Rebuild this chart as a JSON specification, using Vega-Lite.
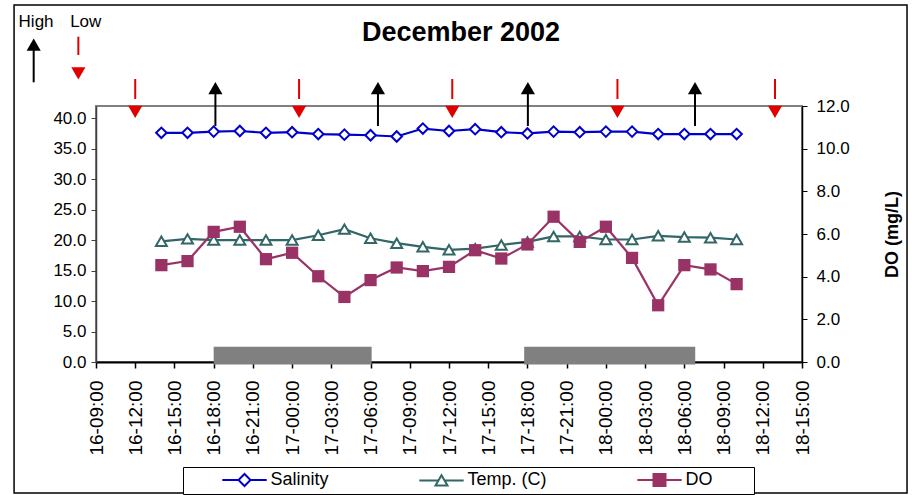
{
  "$schema": "https://vega.github.io/schema/vega-lite/v6.json",
  "width": 706,
  "height": 256,
  "autosize": {"type": "none"},
  "padding": {"left": 96, "top": 106, "right": 113, "bottom": 133},
  "background": "white",
  "config": {
    "view": {"stroke": "#808080", "strokeWidth": 2},
    "font": "Liberation Sans"
  },
  "title": {
    "text": "December 2002",
    "font": "Liberation Sans",
    "fontSize": 27,
    "fontWeight": "bold",
    "color": "black",
    "anchor": "middle",
    "frame": "group",
    "offset": -43,
    "dx": 12
  },
  "datasets": {
    "main": [
      {"t": "2002-12-16T14:00", "sal": 37.6, "temp": 19.8, "do": 4.54},
      {"t": "2002-12-16T16:00", "sal": 37.6, "temp": 20.2, "do": 4.73},
      {"t": "2002-12-16T18:00", "sal": 37.8, "temp": 20.0, "do": 6.10},
      {"t": "2002-12-16T20:00", "sal": 37.9, "temp": 20.0, "do": 6.34},
      {"t": "2002-12-16T22:00", "sal": 37.6, "temp": 20.0, "do": 4.82},
      {"t": "2002-12-17T00:00", "sal": 37.7, "temp": 20.0, "do": 5.12},
      {"t": "2002-12-17T02:00", "sal": 37.4, "temp": 20.8, "do": 4.02},
      {"t": "2002-12-17T04:00", "sal": 37.3, "temp": 21.8, "do": 3.05},
      {"t": "2002-12-17T06:00", "sal": 37.2, "temp": 20.3, "do": 3.84},
      {"t": "2002-12-17T08:00", "sal": 37.0, "temp": 19.5, "do": 4.43},
      {"t": "2002-12-17T10:00", "sal": 38.3, "temp": 18.9, "do": 4.26},
      {"t": "2002-12-17T12:00", "sal": 37.9, "temp": 18.4, "do": 4.46},
      {"t": "2002-12-17T14:00", "sal": 38.2, "temp": 18.6, "do": 5.24},
      {"t": "2002-12-17T16:00", "sal": 37.7, "temp": 19.2, "do": 4.85},
      {"t": "2002-12-17T18:00", "sal": 37.5, "temp": 19.7, "do": 5.51},
      {"t": "2002-12-17T20:00", "sal": 37.8, "temp": 20.6, "do": 6.81},
      {"t": "2002-12-17T22:00", "sal": 37.7, "temp": 20.6, "do": 5.63},
      {"t": "2002-12-18T00:00", "sal": 37.8, "temp": 20.1, "do": 6.34},
      {"t": "2002-12-18T02:00", "sal": 37.8, "temp": 20.1, "do": 4.88},
      {"t": "2002-12-18T04:00", "sal": 37.4, "temp": 20.7, "do": 2.66},
      {"t": "2002-12-18T06:00", "sal": 37.4, "temp": 20.5, "do": 4.54},
      {"t": "2002-12-18T08:00", "sal": 37.4, "temp": 20.4, "do": 4.34},
      {"t": "2002-12-18T10:00", "sal": 37.4, "temp": 20.1, "do": 3.65}
    ],
    "nights": [
      {"start": "2002-12-16T18:00", "end": "2002-12-17T06:05"},
      {"start": "2002-12-17T17:45", "end": "2002-12-18T06:50"}
    ],
    "lows": [
      {"t": "2002-12-16T12:00"},
      {"t": "2002-12-17T00:32"},
      {"t": "2002-12-17T12:15"},
      {"t": "2002-12-18T00:53"},
      {"t": "2002-12-18T12:56"}
    ],
    "highs": [
      {"t": "2002-12-16T18:08"},
      {"t": "2002-12-17T06:34"},
      {"t": "2002-12-17T18:02"},
      {"t": "2002-12-18T06:49"}
    ],
    "keys": [
      {"label": "High", "t": "2002-12-16T04:25"},
      {"label": "Low", "t": "2002-12-16T08:13"}
    ],
    "series": [
      {"s": "Salinity"},
      {"s": "Temp. (C)"},
      {"s": "DO"}
    ]
  },
  "resolve": {"scale": {"y": "independent"}, "axis": {"x": "independent", "y": "independent"}},
  "layer": [
    {
      "resolve": {"axis": {"x": "independent", "y": "independent"}},
      "layer": [
        {
          "data": {"name": "main"},
          "mark": {"type": "line", "color": "#0000CC", "strokeWidth": 2.2,
                   "point": {"shape": "diamond", "filled": true, "fill": "white", "stroke": "#0000CC", "strokeWidth": 2, "size": 110}},
          "encoding": {
            "x": {"field": "t", "type": "temporal",
                  "scale": {"domain": [{"year": 2002, "month": 12, "date": 16, "hours": 9}, {"year": 2002, "month": 12, "date": 18, "hours": 15}]},
                  "axis": {"orient": "bottom", "title": null, "format": "%d-%H:%M",
                           "values": [
                             {"year": 2002, "month": 12, "date": 16, "hours": 9},
                             {"year": 2002, "month": 12, "date": 16, "hours": 12},
                             {"year": 2002, "month": 12, "date": 16, "hours": 15},
                             {"year": 2002, "month": 12, "date": 16, "hours": 18},
                             {"year": 2002, "month": 12, "date": 16, "hours": 21},
                             {"year": 2002, "month": 12, "date": 17, "hours": 0},
                             {"year": 2002, "month": 12, "date": 17, "hours": 3},
                             {"year": 2002, "month": 12, "date": 17, "hours": 6},
                             {"year": 2002, "month": 12, "date": 17, "hours": 9},
                             {"year": 2002, "month": 12, "date": 17, "hours": 12},
                             {"year": 2002, "month": 12, "date": 17, "hours": 15},
                             {"year": 2002, "month": 12, "date": 17, "hours": 18},
                             {"year": 2002, "month": 12, "date": 17, "hours": 21},
                             {"year": 2002, "month": 12, "date": 18, "hours": 0},
                             {"year": 2002, "month": 12, "date": 18, "hours": 3},
                             {"year": 2002, "month": 12, "date": 18, "hours": 6},
                             {"year": 2002, "month": 12, "date": 18, "hours": 9},
                             {"year": 2002, "month": 12, "date": 18, "hours": 12},
                             {"year": 2002, "month": 12, "date": 18, "hours": 15}
                           ],
                           "labelAngle": 270, "labelFont": "Liberation Sans", "labelFontSize": 19, "labelColor": "black",
                           "labelPadding": 12, "tickSize": 6, "tickColor": "black", "tickWidth": 1.5,
                           "domainColor": "black", "domainWidth": 2, "grid": false,
                           "labelOverlap": false, "labelFlush": false}},
            "y": {"field": "sal", "type": "quantitative",
                  "scale": {"domain": [0, 42], "nice": false},
                  "axis": {"orient": "left", "title": null, "values": [0, 5, 10, 15, 20, 25, 30, 35, 40], "format": ".1f",
                           "labelFont": "Liberation Sans", "labelFontSize": 17, "labelColor": "black",
                           "tickSize": 5, "labelPadding": 5, "domainColor": "#404040", "domainWidth": 1.5,
                           "tickColor": "#404040", "grid": false}}
          }
        },
        {
          "data": {"values": [{}]},
          "mark": {"type": "rect", "filled": false, "color": "black", "strokeWidth": 1.5},
          "encoding": {
            "x": {"datum": {"year": 2002, "month": 12, "date": 16, "hours": 2, "minutes": 44}, "type": "temporal", "axis": null},
            "x2": {"datum": {"year": 2002, "month": 12, "date": 18, "hours": 23, "minutes": 2}},
            "y": {"datum": 58.57, "type": "quantitative", "axis": null},
            "y2": {"datum": -21.49}
          }
        },
        {
          "data": {"name": "nights"},
          "mark": {"type": "rect", "color": "#808080"},
          "encoding": {
            "x": {"field": "start", "type": "temporal", "axis": null},
            "x2": {"field": "end"},
            "y": {"datum": 2.5, "type": "quantitative", "axis": null},
            "y2": {"datum": -0.4}
          }
        },
        {
          "data": {"name": "main"},
          "mark": {"type": "line", "color": "#336666", "strokeWidth": 2.2,
                   "point": {"shape": "triangle-up", "filled": true, "fill": "white", "stroke": "#336666", "strokeWidth": 2, "size": 120}},
          "encoding": {
            "x": {"field": "t", "type": "temporal", "axis": null},
            "y": {"field": "temp", "type": "quantitative", "axis": null}
          }
        },
        {
          "data": {"name": "lows"},
          "mark": {"type": "rule", "color": "#E00000", "strokeWidth": 2},
          "encoding": {
            "x": {"field": "t", "type": "temporal", "axis": null},
            "y": {"datum": 46.43, "type": "quantitative", "axis": null},
            "y2": {"datum": 43.15}
          }
        },
        {
          "data": {"name": "lows"},
          "mark": {"type": "point", "shape": "triangle-down", "filled": true, "color": "#E00000", "size": 200, "opacity": 1},
          "encoding": {
            "x": {"field": "t", "type": "temporal", "axis": null},
            "y": {"datum": 41.02, "type": "quantitative", "axis": null}
          }
        },
        {
          "data": {"name": "highs"},
          "mark": {"type": "rule", "color": "black", "strokeWidth": 2},
          "encoding": {
            "x": {"field": "t", "type": "temporal", "axis": null},
            "y": {"datum": 44.6, "type": "quantitative", "axis": null},
            "y2": {"datum": 38.72}
          }
        },
        {
          "data": {"name": "highs"},
          "mark": {"type": "point", "shape": "triangle-up", "filled": true, "color": "black", "size": 200, "opacity": 1},
          "encoding": {
            "x": {"field": "t", "type": "temporal", "axis": null},
            "y": {"datum": 44.95, "type": "quantitative", "axis": null}
          }
        },
        {
          "data": {"name": "keys"},
          "mark": {"type": "text", "font": "Liberation Sans", "fontSize": 17, "color": "black", "align": "center", "baseline": "alphabetic"},
          "encoding": {
            "x": {"field": "t", "type": "temporal", "axis": null},
            "y": {"datum": 55.0, "type": "quantitative", "axis": null},
            "text": {"field": "label"}
          }
        },
        {
          "data": {"values": [{}]},
          "mark": {"type": "rule", "color": "black", "strokeWidth": 2},
          "encoding": {
            "x": {"datum": {"year": 2002, "month": 12, "date": 16, "hours": 4, "minutes": 14}, "type": "temporal", "axis": null},
            "y": {"datum": 51.5, "type": "quantitative", "axis": null},
            "y2": {"datum": 45.89}
          }
        },
        {
          "data": {"values": [{}]},
          "mark": {"type": "point", "shape": "triangle-up", "filled": true, "color": "black", "size": 200, "opacity": 1},
          "encoding": {
            "x": {"datum": {"year": 2002, "month": 12, "date": 16, "hours": 4, "minutes": 14}, "type": "temporal", "axis": null},
            "y": {"datum": 52.06, "type": "quantitative", "axis": null}
          }
        },
        {
          "data": {"values": [{}]},
          "mark": {"type": "rule", "color": "#E00000", "strokeWidth": 2},
          "encoding": {
            "x": {"datum": {"year": 2002, "month": 12, "date": 16, "hours": 7, "minutes": 39}, "type": "temporal", "axis": null},
            "y": {"datum": 53.37, "type": "quantitative", "axis": null},
            "y2": {"datum": 50.37}
          }
        },
        {
          "data": {"values": [{}]},
          "mark": {"type": "point", "shape": "triangle-down", "filled": true, "color": "#E00000", "size": 200, "opacity": 1},
          "encoding": {
            "x": {"datum": {"year": 2002, "month": 12, "date": 16, "hours": 7, "minutes": 39}, "type": "temporal", "axis": null},
            "y": {"datum": 47.37, "type": "quantitative", "axis": null}
          }
        },
        {
          "data": {"name": "series"},
          "mark": {"type": "point", "filled": false, "opacity": 0},
          "encoding": {
            "color": {"field": "s", "type": "nominal",
                      "scale": {"domain": ["Salinity", "Temp. (C)", "DO"], "range": ["#0000CC", "#336666", "#993366"]},
                      "legend": {"title": null, "orient": "none", "legendX": 87, "legendY": 361, "direction": "horizontal",
                                 "symbolSize": 144, "symbolStrokeWidth": 2, "symbolOpacity": 1, "symbolOffset": 48.5,
                                 "labelFont": "Liberation Sans", "labelFontSize": 18, "labelColor": "black",
                                 "labelOffset": 17, "columnPadding": 55, "padding": 4,
                                 "strokeColor": "black", "fillColor": "white"}},
            "fill": {"field": "s", "type": "nominal",
                     "scale": {"domain": ["Salinity", "Temp. (C)", "DO"], "range": ["white", "white", "#993366"]},
                     "legend": {"title": null, "orient": "none", "legendX": 87, "legendY": 361, "direction": "horizontal",
                                "symbolSize": 144, "symbolStrokeWidth": 2, "symbolOpacity": 1, "symbolOffset": 48.5,
                                "labelFont": "Liberation Sans", "labelFontSize": 18, "labelColor": "black",
                                "labelOffset": 17, "columnPadding": 55, "padding": 4,
                                "strokeColor": "black", "fillColor": "white"}},
            "shape": {"field": "s", "type": "nominal",
                      "scale": {"domain": ["Salinity", "Temp. (C)", "DO"],
                                "range": ["M-3.7,0H-1M1,0H3.7M0,-1L1,0L0,1L-1,0Z",
                                          "M-3.7,0H-0.5M0.5,0H3.7M0,-0.87L1,0.87L-1,0.87Z",
                                          "M14.3,0M-3.7,0H3.7M-1,-1H1V1H-1Z"]},
                      "legend": {"title": null, "orient": "none", "legendX": 87, "legendY": 361, "direction": "horizontal",
                                 "symbolSize": 144, "symbolStrokeWidth": 2, "symbolOpacity": 1, "symbolOffset": 48.5,
                                 "labelFont": "Liberation Sans", "labelFontSize": 18, "labelColor": "black",
                                 "labelOffset": 17, "columnPadding": 55, "padding": 4,
                                 "strokeColor": "black", "fillColor": "white"}}
          }
        }
      ]
    },
    {
      "data": {"name": "main"},
      "mark": {"type": "line", "color": "#993366", "strokeWidth": 2.2,
               "point": {"shape": "square", "filled": true, "color": "#993366", "size": 150}},
      "encoding": {
        "x": {"field": "t", "type": "temporal", "axis": null,
              "scale": {"domain": [{"year": 2002, "month": 12, "date": 16, "hours": 9}, {"year": 2002, "month": 12, "date": 18, "hours": 15}]}},
        "y": {"field": "do", "type": "quantitative",
              "scale": {"domain": [0, 12], "nice": false},
              "axis": {"orient": "right", "title": "DO (mg/L)", "values": [0, 2, 4, 6, 8, 10, 12], "format": ".1f",
                       "titleFont": "Liberation Sans", "titleFontSize": 18, "titleFontWeight": "bold", "titleColor": "black",
                       "titleAngle": 270, "titlePadding": 52,
                       "labelFont": "Liberation Sans", "labelFontSize": 17, "labelColor": "black",
                       "tickSize": 5, "labelPadding": 9, "domainColor": "black", "domainWidth": 1.5,
                       "tickColor": "black", "grid": false}}
      }
    }
  ]
}
